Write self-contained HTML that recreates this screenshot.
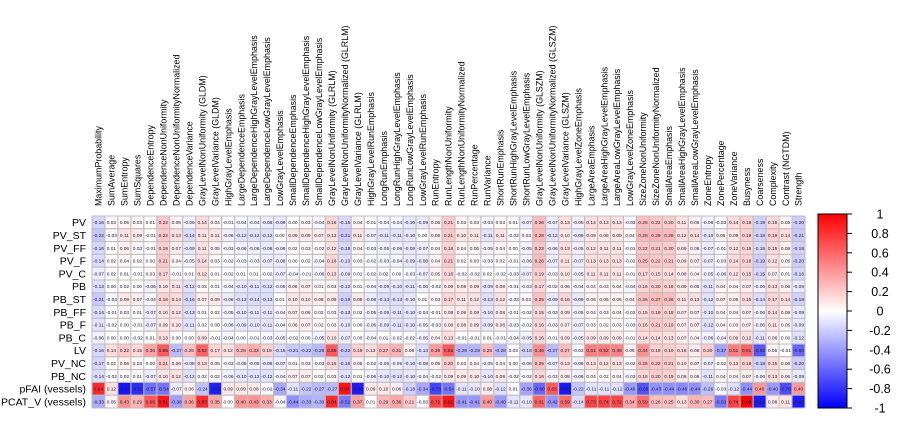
<!DOCTYPE html>
<html><head><meta charset="utf-8">
<style>
html,body{margin:0;padding:0;background:#fff;}
svg{display:block;font-family:"Liberation Sans",sans-serif;}
</style></head>
<body>
<svg id="chart" width="907" height="421" viewBox="0 0 907 421">
<g id="cells"></g>
<g id="collabels"></g>
<g id="rowlabels"></g>
<g id="legend"></g>
</svg>
<script>
const columns = ["MaximumProbability","SumAverage","SumEntropy","SumSquares","DependenceEntropy","DependenceNonUniformity","DependenceNonUniformityNormalized","DependenceVariance","GrayLevelNonUniformity (GLDM)","GrayLevelVariance (GLDM)","HighGrayLevelEmphasis","LargeDependenceEmphasis","LargeDependenceHighGrayLevelEmphasis","LargeDependenceLowGrayLevelEmphasis","LowGrayLevelEmphasis","SmallDependenceEmphasis","SmallDependenceHighGrayLevelEmphasis","SmallDependenceLowGrayLevelEmphasis","GrayLevelNonUniformity (GLRLM)","GrayLevelNonUniformityNormalized (GLRLM)","GrayLevelVariance (GLRLM)","HighGrayLevelRunEmphasis","LongRunEmphasis","LongRunHighGrayLevelEmphasis","LongRunLowGrayLevelEmphasis","LowGrayLevelRunEmphasis","RunEntropy","RunLengthNonUniformity","RunLengthNonUniformityNormalized","RunPercentage","RunVariance","ShortRunEmphasis","ShortRunHighGrayLevelEmphasis","ShortRunLowGrayLevelEmphasis","GrayLevelNonUniformity (GLSZM)","GrayLevelNonUniformityNormalized (GLSZM)","GrayLevelVariance (GLSZM)","HighGrayLevelZoneEmphasis","LargeAreaEmphasis","LargeAreaHighGrayLevelEmphasis","LargeAreaLowGrayLevelEmphasis","LowGrayLevelZoneEmphasis","SizeZoneNonUniformity","SizeZoneNonUniformityNormalized","SmallAreaEmphasis","SmallAreaHighGrayLevelEmphasis","SmallAreaLowGrayLevelEmphasis","ZoneEntropy","ZonePercentage","ZoneVariance","Busyness","Coarseness","Complexity","Contrast (NGTDM)","Strength"];
const rows = ["PV","PV_ST","PV_FF","PV_F","PV_C","PB","PB_ST","PB_FF","PB_F","PB_C","LV","PV_NC","PB_NC","pFAI (vessels)","PCAT_V (vessels)"];
const rowPV = [-0.16,0.03,0.05,0.03,0.01,0.22,0.05,-0.06,0.14,0.04,-0.01,-0.04,-0.04,-0.08,-0.09,0.00,0.03,-0.04, 0.16,-0.15,0.04,-0.01,-0.04,-0.04,-0.10,-0.09,0.05,0.21,0.03,0.03,-0.03,0.03,0.01,-0.07,0.26,-0.07, 0.13,-0.05,0.14,0.13,0.13,-0.03,0.25,0.22,0.20,0.11,0.06,-0.06,-0.03,0.14,0.18,-0.19,0.15,0.05,-0.20];
const rowPV_ST = [-0.22,-0.03,0.11,0.09,-0.01,0.22,0.13,-0.14,0.11,0.11,-0.06,-0.12,-0.12,-0.12,0.00,0.09,0.09,0.07, 0.13,-0.21,0.11,-0.07,-0.11,-0.11,-0.10,0.00,0.06,0.21,0.10,0.11,-0.11,0.11,-0.02,0.03,0.28,-0.12, 0.10,-0.09,0.09,0.08,0.09,0.04,0.28,0.29,0.28,0.12,0.14,-0.10,0.05,0.09,0.19,-0.18,0.19,0.14,-0.21];
const rowPV_FF = [-0.16,0.01,0.06,0.03,-0.01,0.19,0.07,-0.09,0.11,0.05,-0.03,-0.06,-0.06,-0.08,-0.06,0.02,0.03,-0.02, 0.12,-0.16,0.04,-0.03,-0.05,-0.06,-0.09,-0.07,0.04,0.18,0.04,0.05,-0.05,0.04,0.00,-0.05,0.23,-0.06, 0.13,-0.05,0.12,0.11,0.11,-0.01,0.22,0.21,0.20,0.09,0.06,-0.07,-0.01,0.12,0.16,-0.15,0.15,0.06,-0.18];
const rowPV_F = [-0.14,0.02,0.04,0.02,0.00,0.21,0.04,-0.05,0.14,0.03,-0.02,-0.03,-0.03,-0.07,-0.08,0.00,0.02,-0.04, 0.16,-0.13,0.03,-0.02,-0.03,-0.04,-0.09,-0.08,0.04,0.21,0.02,0.03,-0.03,0.02,-0.01,-0.06,0.26,-0.07, 0.11,-0.07,0.13,0.13,0.13,-0.02,0.25,0.22,0.21,0.09,0.07,-0.07,-0.03,0.14,0.18,-0.19,0.12,0.05,-0.20];
const rowPV_C = [-0.07,0.02,0.01,-0.01,0.03,0.17,-0.01,0.01,0.12,0.01,-0.02,0.01,0.01,-0.02,-0.07,-0.04,-0.01,-0.06, 0.13,-0.09,0.01,-0.02,0.02,0.00,-0.03,-0.07,0.05,0.16,-0.02,-0.02,0.02,-0.02,-0.03,-0.07,0.19,-0.03, 0.10,-0.05,0.11,0.11,0.11,-0.01,0.17,0.15,0.14,0.08,0.04,-0.05,-0.06,0.12,0.15,-0.15,0.07,0.01,-0.16];
const rowPB = [-0.13,0.00,0.02,0.00,-0.06,0.10,0.11,-0.12,0.03,0.01,-0.04,-0.10,-0.11,-0.12,-0.05,0.06,0.07,0.01, 0.03,-0.12,0.01,-0.04,-0.09,-0.10,-0.11,-0.06,-0.02,0.09,0.08,0.09,-0.09,0.08,-0.01,-0.03,0.17,-0.02, 0.06,-0.04,0.04,0.03,0.04,-0.04,0.16,0.20,0.18,0.09,0.05,-0.11,0.04,0.04,0.07,-0.06,0.13,0.06,-0.09];
const rowPB_ST = [-0.21,-0.04,0.09,0.07,-0.04,0.18,0.14,-0.16,0.07,0.09,-0.08,-0.13,-0.14,-0.13,0.01,0.10,0.10,0.08, 0.09,-0.19,0.09,-0.08,-0.13,-0.13,-0.10,0.01,0.03,0.17,0.11,0.12,-0.13,0.12,-0.03,0.03,0.25,-0.09, 0.16,-0.09,0.06,0.05,0.06,0.04,0.25,0.27,0.26,0.11,0.13,-0.12,0.07,0.06,0.15,-0.14,0.17,0.14,-0.18];
const rowPB_FF = [-0.14,-0.01,0.03,0.01,-0.07,0.10,0.12,-0.13,0.01,0.02,-0.05,-0.10,-0.11,-0.11,-0.04,0.07,0.06,0.02, 0.03,-0.13,0.02,-0.05,-0.09,-0.11,-0.10,-0.04,-0.01,0.08,0.08,0.09,-0.10,0.08,-0.01,-0.02,0.15,-0.03, 0.09,-0.05,0.04,0.03,0.04,-0.02,0.15,0.19,0.18,0.07,0.07,-0.10,0.04,0.04,0.07,-0.06,0.14,0.06,-0.09];
const rowPB_F = [-0.11,-0.02,0.00,-0.01,-0.07,0.09,0.10,-0.11,0.02,0.00,-0.06,-0.09,-0.10,-0.11,-0.04,0.06,0.07,0.02, 0.03,-0.10,0.00,-0.06,-0.09,-0.11,-0.10,-0.05,-0.03,0.08,0.08,0.09,-0.09,0.08,-0.03,-0.02,0.16,-0.03, 0.07,-0.07,0.03,0.02,0.03,-0.03,0.16,0.21,0.19,0.07,0.07,-0.12,0.04,0.03,0.07,-0.06,0.11,0.05,-0.09];
const rowPB_C = [-0.06,0.00,0.00,-0.02,0.01,0.13,0.00,0.00,0.09,-0.01,-0.04,0.00,-0.01,-0.03,-0.05,-0.02,0.00,-0.05, 0.10,-0.07,0.00,-0.04,0.01,-0.02,-0.02,-0.05,0.04,0.13,-0.01,-0.01,0.01,-0.01,-0.04,-0.05,0.16,-0.01, 0.09,-0.05,0.09,0.09,0.09,-0.01,0.14,0.14,0.13,0.07,0.04,-0.06,-0.04,0.09,0.12,-0.11,0.06,0.00,-0.12];
const rowLV = [-0.16,0.14,0.22,0.15,0.36,0.65,-0.27,0.25,0.62,0.17,0.12,0.28,0.33,0.19,-0.15,-0.21,-0.22,-0.28, 0.65,-0.22,0.19,0.13,0.27,0.31,0.06,-0.14,0.39,0.65,-0.29,-0.29,0.28,-0.28,0.03,-0.18,0.46,-0.27, 0.27,-0.03,0.51,0.52,0.49,0.06,0.44,0.19,0.19,0.16,0.08,0.20,-0.37,0.51,0.61,-0.66,0.05,-0.01,-0.60];
const rowPV_NC = [-0.17,0.02,0.06,0.03,0.00,0.21,0.06,-0.08,0.13,0.05,-0.03,-0.05,-0.05,-0.08,-0.07,0.01,0.03,-0.03, 0.15,-0.16,0.05,-0.02,-0.05,-0.05,-0.10,-0.08,0.05,0.20,0.03,0.04,-0.05,0.04,0.00,-0.06,0.25,-0.07, 0.13,-0.06,0.13,0.12,0.13,-0.02,0.25,0.22,0.21,0.10,0.07,-0.07,-0.02,0.13,0.18,-0.18,0.15,0.06,-0.20];
const rowPB_NC = [-0.14,-0.02,0.02,0.01,-0.07,0.10,0.12,-0.12,0.02,0.02,-0.06,-0.10,-0.12,-0.12,-0.04,0.07,0.07,0.02, 0.03,-0.12,0.01,-0.06,-0.10,-0.12,-0.10,-0.04,-0.02,0.09,0.09,0.10,-0.10,0.09,-0.02,-0.02,0.16,-0.03, 0.08,-0.06,0.04,0.02,0.04,-0.03,0.16,0.20,0.19,0.08,0.06,-0.11,0.04,0.04,0.07,-0.06,0.13,0.06,-0.09];
const rowPFAI = [0.84,0.12,-0.91,-0.82,-0.57,-0.54,-0.07,0.06,-0.24,-0.88,0.09,0.09,0.08,-0.02,-0.34,-0.11,-0.22,-0.27, -0.27,0.93,-0.89,0.09,0.10,0.06,-0.18,-0.34,-0.73,-0.54,-0.11,-0.10,0.08,-0.12,0.01,-0.36,-0.60,0.65, -0.90,-0.22,-0.11,-0.11,-0.12,-0.40,-0.68,-0.43,-0.44,-0.46,-0.44,-0.26,-0.03,-0.12,-0.44,0.40,-0.40,-0.70,0.40];
const rowPCAT = [-0.33,0.05,0.43,0.29,0.66,0.91,-0.38,0.36,0.83,0.35,0.00,0.40,0.43,0.33,-0.04,-0.44,-0.33,-0.30, 0.84,-0.52,0.37,0.01,0.29,0.36,0.21,-0.03,0.72,0.91,-0.41,-0.41,0.40,-0.40,-0.11,-0.10,0.61,-0.42, 0.59,-0.14,0.73,0.74,0.72,0.34,0.59,0.26,0.25,0.13,0.30,0.27,-0.53,0.74,0.99,-0.89,0.08,0.11,-0.89];
const values = [rowPV,rowPV_ST,rowPV_FF,rowPV_F,rowPV_C,rowPB,rowPB_ST,rowPB_FF,rowPB_F,rowPB_C,rowLV,rowPV_NC,rowPB_NC,rowPFAI,rowPCAT];
const legendTicks = [1,0.8,0.6,0.4,0.2,0,-0.2,-0.4,-0.6,-0.8,-1];

const NS = "http://www.w3.org/2000/svg";
const X0 = 92, X1 = 805, Y0 = 216, Y1 = 408;
const cw = (X1 - X0) / columns.length, ch = (Y1 - Y0) / rows.length;
function xPos(i){ return X0 + i * cw; }
function yPos(j){ return Y0 + j * ch; }
function color(v){
  v = Math.max(-1, Math.min(1, v));
  let r, g, b;
  if (v >= 0){ r = 255; g = Math.round(255*(1-v)); b = g; }
  else { b = 255; r = Math.round(255*(1+v)); g = r; }
  return `rgb(${r},${g},${b})`;
}
function mk(tag, attrs){ const e = document.createElementNS(NS, tag); for (const k in attrs) e.setAttribute(k, attrs[k]); return e; }

const cells = document.getElementById('cells');
values.forEach((row, j) => {
  row.forEach((v, i) => {
    const r = mk('rect', {x: xPos(i), y: yPos(j), width: cw, height: ch, fill: color(v), stroke: '#bdbdbd', 'stroke-width': 1});
    
    
    cells.appendChild(r);
    const t = mk('text', {x: xPos(i) + cw/2, y: yPos(j) + ch/2 + 1.8, 'font-size': 4.8, 'text-anchor': 'middle', fill: '#1a1a2e'});
    t.textContent = v.toFixed(2);
    
    
    cells.appendChild(t);
  });
});

const colG = document.getElementById('collabels');
columns.forEach((c, i) => {
  const x = xPos(i) + cw/2 + 3.2, y = 206;
  const t = mk('text', {x: x, y: y, 'font-size': 8.9, transform: `rotate(-90 ${x} ${y})`, fill: '#000'});
  t.textContent = c;
  
  
  colG.appendChild(t);
});

const rowG = document.getElementById('rowlabels');
rows.forEach((r, j) => {
  const t = mk('text', {x: 86, y: yPos(j) + ch/2 + 3.8, 'font-size': 10.5, 'text-anchor': 'end', fill: '#000'});
  t.textContent = r;
  
  
  rowG.appendChild(t);
});

const leg = document.getElementById('legend');
const LX = 818, LW = 29, LY0 = 214, LY1 = 408;
const defs = mk('defs', {});
const grad = mk('linearGradient', {id: 'cg', x1: 0, y1: 0, x2: 0, y2: 1});
[[0,'#ff0000'],[0.5,'#ffffff'],[1,'#0000ff']].forEach(s => grad.appendChild(mk('stop', {offset: s[0], 'stop-color': s[1]})));
defs.appendChild(grad); leg.appendChild(defs);
const bar = mk('rect', {x: LX, y: LY0, width: LW, height: LY1 - LY0, fill: 'url(#cg)', stroke: '#000', 'stroke-width': 1});


leg.appendChild(bar);
function ly(v){ return LY0 + (1 - v) / 2 * (LY1 - LY0); }
legendTicks.forEach(v => {
  const y = ly(v);
  const tk = mk('line', {x1: LX + LW, x2: LX + LW + 5, y1: y, y2: y, stroke: '#000', 'stroke-width': 1});
  
  
  leg.appendChild(tk);
  const t = mk('text', {x: 880, y: y + 4.5, 'font-size': 12.5, 'text-anchor': 'middle', fill: '#000'});
  t.textContent = String(v);
  
  
  leg.appendChild(t);
});
</script>
</body></html>
